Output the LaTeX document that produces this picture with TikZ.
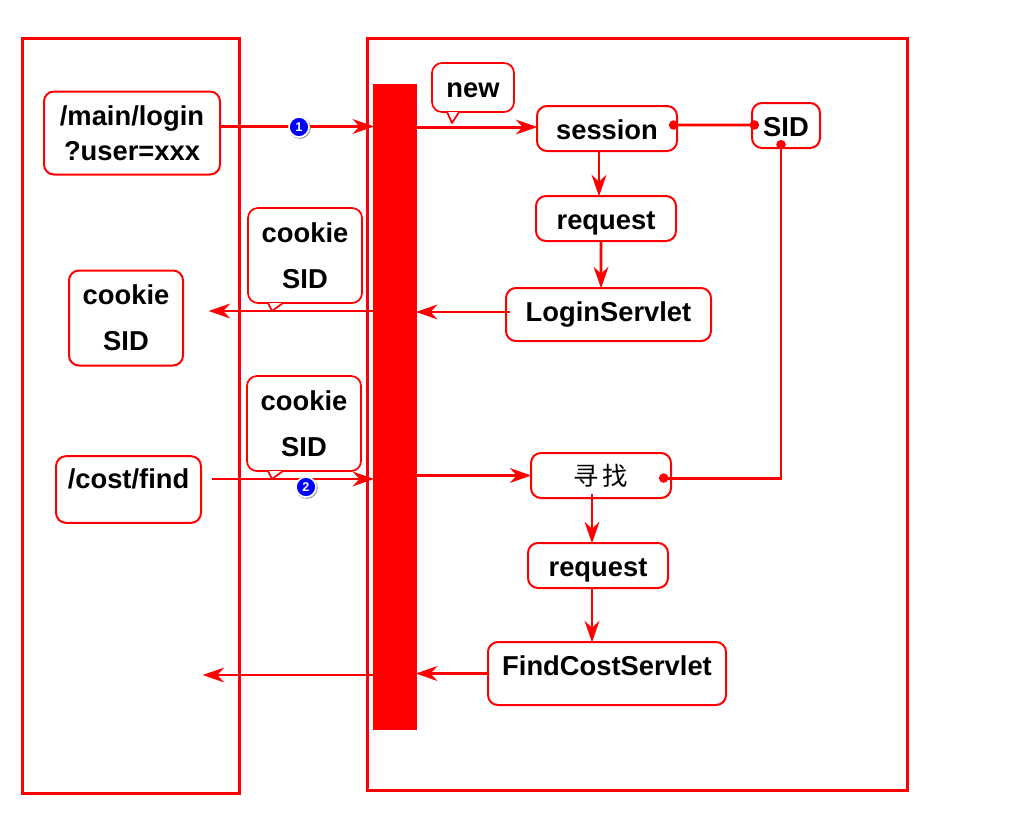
\documentclass[tikz,border=0pt]{standalone}
\usepackage{fontspec}
\setmainfont{Liberation Sans}
\newfontfamily\cjkfont{Noto Sans CJK SC}
\usetikzlibrary{arrows.meta,shadows}
\tikzset{
    panel/.style={draw=red,line width=2.25pt,minimum width=#1},
    flowbox/.style={draw=red,line width=1.5pt,rounded corners=7.5pt,fill=white,align=center,inner sep=0pt,font=\fontsize{20.5}{26}\bfseries\selectfont},
    oneline/.style={flowbox,text height=24.8pt,text depth=#1},
    bubble/.style={draw=red,line width=1.3pt,rounded corners=7.5pt,fill=white,align=center,inner sep=0pt,font=\fontsize{20.5}{34.5}\bfseries\selectfont},
    bubbletail/.style={draw=red,line width=1.3pt,fill=white,line join=round},
    flow/.style={draw=red,line width=2.2pt,shorten >=-1pt,-{Stealth[length=16pt,width=11pt,inset=5pt]}},
    link/.style={draw=red,line width=2.2pt,{Circle[length=7pt]}-{Circle[length=7pt]}},
    badge/.style={circle,fill=blue,draw=white,line width=1.2pt,inner sep=0pt,minimum size=15pt,text=white,font=\fontsize{9.5}{9.5}\bfseries\selectfont,drop shadow={opacity=0.7,shadow scale=1.1,shadow xshift=0.6pt,shadow yshift=-0.6pt}}
}
\begin{document}
\begin{tikzpicture}[x=0.75pt,y=-0.75pt]
                \useasboundingbox (0,0) rectangle (1024,836);
                % Draw the two outer panels and the red bar
                \node[panel=162.75pt,minimum height=566.25pt] (clientPanel) at (130.5,415.5) {};
                \node[panel=405.5pt,minimum height=564pt] (serverPanel) at (637.5,414) {};
                \node[fill=red,inner sep=0pt,minimum width=33pt,minimum height=484.5pt] (filterBar) at (395,407) {};
                % Draw the boxes
                \node[flowbox,minimum width=132pt,minimum height=62.25pt] (loginReq) at (132,133) {/main/login\\?user=xxx};
                \node[flowbox,minimum width=85.5pt,minimum height=71.25pt,font=\fontsize{20.5}{34.5}\bfseries\selectfont] (cookieSaved) at (126,318) {cookie\\SID};
                \node[flowbox,minimum width=108.75pt,text height=24pt,text depth=26pt] (findReq) at (128.5,489.5) {/cost/find};
                \node[oneline=8.95pt,minimum width=105pt] (session) at (607,128.5) {session};
                \node[oneline=8.95pt,minimum width=51pt] (sid) at (786,125.5) {SID};
                \node[oneline=8.95pt,minimum width=105pt] (requestA) at (606,218.5) {request};
                \node[oneline=14.95pt,minimum width=153.75pt] (loginServlet) at (608.5,314.5) {LoginServlet};
                \node[flowbox,minimum width=105pt,minimum height=33.75pt,font=\cjkfont\fontsize{19}{19}\selectfont] (lookup) at (601,475.5) {寻\hspace{3pt}找};
                \node[oneline=8.95pt,minimum width=105pt] (requestB) at (598,565.5) {request};
                \node[oneline=22.45pt,minimum width=178.5pt] (findServlet) at (607,673.5) {FindCostServlet};
                % Free ends of the two replies
                \coordinate (replyA) at (210,311);
                \coordinate (replyB) at (204,675);
                % Draw the connectors
                \draw[flow] ([yshift=4.9pt]loginReq.east) -- ([yshift=4.9pt]loginReq.east -| filterBar.west);
                \draw[flow] ([yshift=1.1pt]session.west -| filterBar.east) -- ([yshift=1.1pt]session.west);
                \draw[flow] ([xshift=-6pt]session.south) -- ([xshift=-5.25pt]requestA.north);
                \draw[flow] ([xshift=-3.75pt]requestA.south) -- ([xshift=-5.6pt]loginServlet.north);
                \draw[flow] ([yshift=1.9pt,xshift=3.75pt]loginServlet.west) -- ([yshift=1.9pt]loginServlet.west -| filterBar.east);
                \draw[flow] (filterBar.west |- replyA) -- (replyA);
                \draw[flow] ([xshift=7.5pt,yshift=7.9pt]findReq.east) -- ([yshift=7.9pt]findReq.east -| filterBar.west);
                \draw[flow] (filterBar.east |- lookup.west) -- (lookup.west);
                \draw[flow] ([xshift=-6.75pt,yshift=3.75pt]lookup.south) -- ([xshift=-4.5pt]requestB.north);
                \draw[flow] ([xshift=-4.5pt]requestB.south) -- ([xshift=-11.25pt]findServlet.north);
                \draw[flow] (findServlet.west) -- (findServlet.west -| filterBar.east);
                \draw[flow] (filterBar.west |- replyB) -- (replyB);
                \draw[link] ([xshift=-6.75pt,yshift=2.6pt]session.east) -- ([xshift=6pt,yshift=0.4pt]sid.west);
                \draw[link] ([xshift=-3.75pt,yshift=6.75pt]sid.south) |- ([xshift=-9.75pt,yshift=-1.9pt]lookup.east);
                % Draw the speech bubbles
                \node[bubble,minimum width=61.5pt,text height=25.5pt,text depth=11.25pt] (newNote) at (473,87.5) {new};
                \node[bubble,minimum width=85.5pt,minimum height=71.25pt] (cookieOut) at (305,255.5) {cookie\\SID};
                \node[bubble,minimum width=85.5pt,minimum height=71.25pt] (cookieIn) at (304,423.5) {cookie\\SID};
                % Draw the tails of the bubbles
                \coordinate (newTip) at (452,123);
                \coordinate (outTip) at (272,311);
                \coordinate (inTip) at (272,479);
                \foreach \note/\tip/\a/\b in {newNote/newTip/-19.5/-10.5,cookieOut/outTip/-27.75/-16.5,cookieIn/inTip/-27/-15.75}{
                    \draw[bubbletail] ([xshift=\a pt,yshift=0.65pt]\note.south) -- (\tip) -- ([xshift=\b pt,yshift=0.65pt]\note.south);
                }
                % Draw the numbered badges
                \foreach \n/\x/\y in {1/299/127,2/306/487}{
                    \node[badge] (badge\n) at (\x,\y) {\n};
                }
            \end{tikzpicture}
\end{document}
